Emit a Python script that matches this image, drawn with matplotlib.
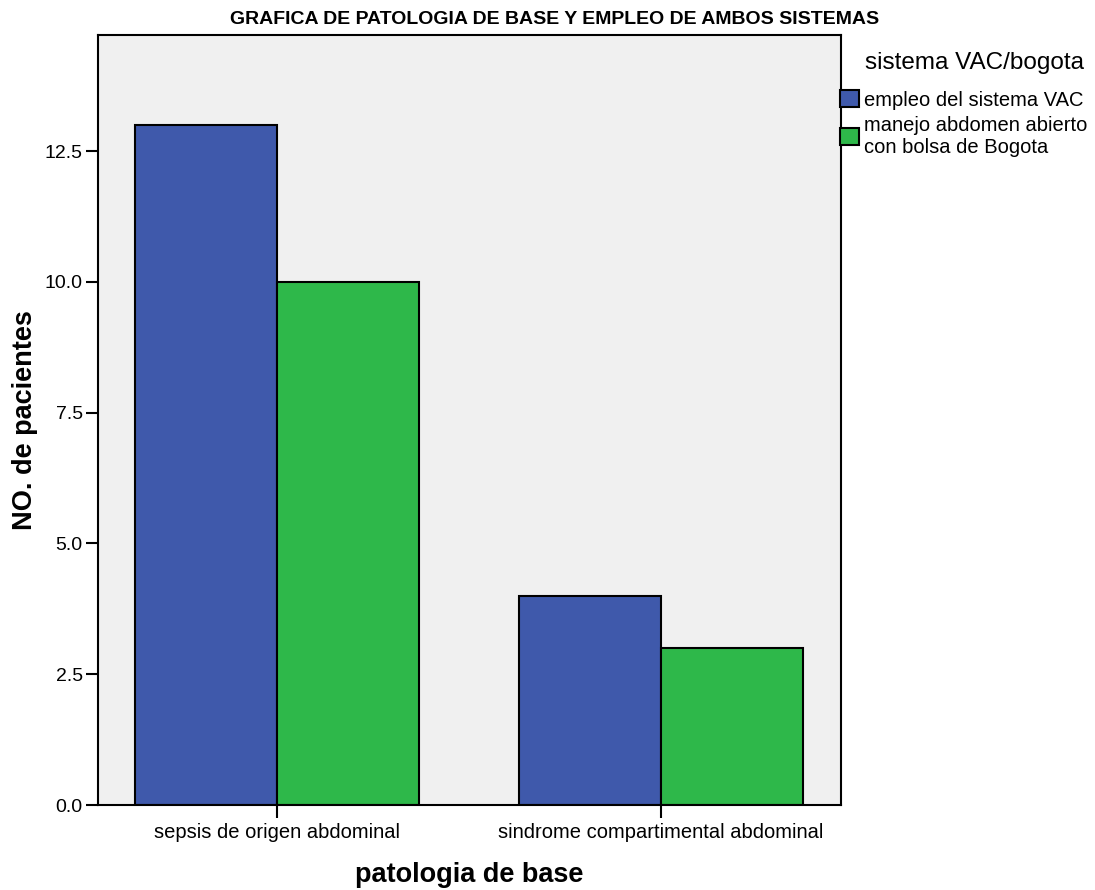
import matplotlib
matplotlib.use("Agg")
import matplotlib.pyplot as plt
import numpy as np
from matplotlib.patches import Patch

categories = ["sepsis de origen abdominal", "sindrome compartimental abdominal"]
series_names = ["empleo del sistema VAC", "manejo abdomen abierto\ncon bolsa de Bogota"]
vac_values = [13, 4]
bogota_values = [10, 3]
yticks = [0.0, 2.5, 5.0, 7.5, 10.0, 12.5]

plt.rcParams['font.family'] = ['Liberation Sans', 'DejaVu Sans']

fig = plt.figure(figsize=(10.95, 8.9), dpi=100)
ax = fig.add_axes([98/1095, 1-805/890, (841-98)/1095, (805-35)/890])
ax.set_facecolor('#F0F0F0')

x = np.arange(len(categories))
w = 0.37
ax.bar(x - w/2, vac_values, w, color='#3F59AB', edgecolor='black', linewidth=1.5, zorder=2)
ax.bar(x + w/2, bogota_values, w, color='#2EB84A', edgecolor='black', linewidth=1.5, zorder=2)

ax.set_xlim(-0.466, 1.469)
ax.set_ylim(0, 14.72)
ax.set_yticks(yticks)
ax.set_yticklabels([f"{v:.1f}" for v in yticks])
ax.set_xticks(x)
ax.set_xticklabels(categories)
ax.tick_params(axis='both', direction='out', length=9, width=1.5, labelsize=14, pad=2)
ax.tick_params(axis='x', labelsize=14.5, pad=4)
for s in ax.spines.values():
    s.set_linewidth(1.5)

ax.set_ylabel("NO. de pacientes", fontsize=19.5, fontweight='bold', labelpad=0)
ax.yaxis.set_label_coords(-0.081, 0.5)
ax.set_xlabel("patologia de base", fontsize=19.5, fontweight='bold')
ax.xaxis.set_label_coords(0.5, -(862-805)/770)

fig.text(555/1095, 1-19/890, "GRAFICA DE PATOLOGIA DE BASE Y EMPLEO DE AMBOS SISTEMAS",
         ha='center', va='center', fontsize=14, fontweight='bold')

fig.text(865/1095, 1-63/890, "sistema VAC/bogota", ha='left', va='center', fontsize=17.5)

handles = [Patch(facecolor='#3F59AB', edgecolor='black', linewidth=1.5),
           Patch(facecolor='#2EB84A', edgecolor='black', linewidth=1.5)]
leg = fig.legend(handles, series_names,
                 loc='upper left', bbox_to_anchor=(840/1095, 1-90/890),
                 frameon=False, fontsize=14.5,
                 handlelength=0.95, handleheight=0.95, handletextpad=0.25,
                 labelspacing=0.3, borderaxespad=0, borderpad=0)

fig.savefig("out.png", dpi=100)
